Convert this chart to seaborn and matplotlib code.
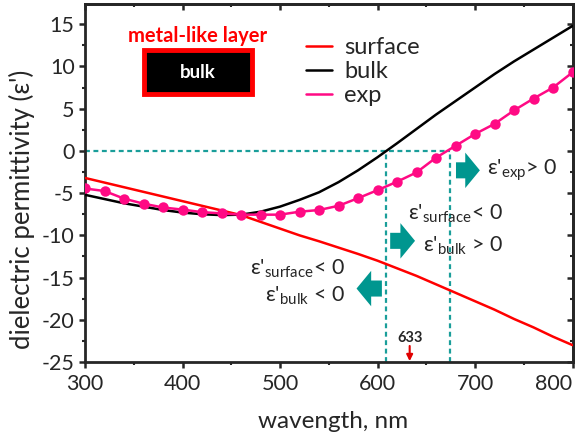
import numpy as np
import pandas as pd
import matplotlib
matplotlib.use('Agg')
import matplotlib.pyplot as plt
import seaborn as sns
from matplotlib.lines import Line2D
from matplotlib.patches import Rectangle, FancyArrow

# wavelength grid (nm) and the three permittivity curves
wavelength = [300, 320, 340, 360, 380, 400, 420, 440, 460, 480, 500, 520, 540,
              560, 580, 600, 620, 640, 660, 680, 700, 720, 740, 760, 780, 800]
eps_surface = [-3.2, -3.75, -4.3, -4.85, -5.4, -5.95, -6.5, -7.05, -7.6, -8.4, -9.2, -10.0, -10.7,
               -11.45, -12.2, -13.0, -13.9, -14.8, -15.8, -16.8, -17.8, -18.8, -19.9, -20.9, -22.0, -23.0]
eps_bulk = [-5.2, -5.7, -6.2, -6.6, -7.0, -7.3, -7.5, -7.6, -7.55, -7.2, -6.6, -5.8, -4.9,
            -3.7, -2.3, -0.75, 0.9, 2.6, 4.3, 5.9, 7.5, 9.1, 10.6, 12.0, 13.4, 14.8]
eps_exp = [-4.45, -4.75, -5.65, -6.25, -6.7, -6.95, -7.25, -7.4, -7.55, -7.55, -7.55, -7.2, -7.0,
           -6.5, -5.6, -4.65, -3.65, -2.55, -0.8, 0.6, 2.0, 3.2, 4.8, 6.2, 7.5, 9.3]

# zero crossings of bulk and exp
cross_bulk = 609
cross_exp = 674
laser = 633

df = pd.DataFrame({'wavelength': wavelength, 'surface': eps_surface,
                   'bulk': eps_bulk, 'exp': eps_exp})

sns.set_style('ticks')
plt.rcParams['font.family'] = ['Lato', 'DejaVu Sans']
plt.rcParams['mathtext.fontset'] = 'custom'
plt.rcParams['mathtext.rm'] = 'Lato'
plt.rcParams['mathtext.it'] = 'Lato:italic'
plt.rcParams['mathtext.bf'] = 'Lato:bold'
plt.rcParams['mathtext.fallback'] = 'stixsans'
plt.rcParams['axes.unicode_minus'] = False

teal = '#1a9e9a'
arrow_teal = '#00968f'
pink = '#ff0a84'

fig = plt.figure(figsize=(5.76, 4.38), dpi=100)
ax = fig.add_axes([85 / 576, 1 - 362 / 438, 487.5 / 576, 358 / 438])

# guide lines
ax.hlines(0, 300, cross_exp, colors=teal, linestyles=(0, (2.2, 1.6)), lw=1.6, zorder=1)
ax.vlines([cross_bulk, cross_exp], -25, 0, colors=teal, linestyles=(0, (2.2, 1.6)), lw=1.6, zorder=1)

sns.lineplot(data=df, x='wavelength', y='surface', color='red', lw=1.8, ax=ax, zorder=3)
sns.lineplot(data=df, x='wavelength', y='bulk', color='black', lw=1.8, ax=ax, zorder=3)
sns.lineplot(data=df, x='wavelength', y='exp', color=pink, lw=1.8, marker='o',
             markersize=7.5, markeredgewidth=0, ax=ax, zorder=4)

ax.set_xlim(300, 800)
ax.set_ylim(-25, 17.4)
ax.set_xticks([300, 400, 500, 600, 700, 800])
ax.set_yticks([-25, -20, -15, -10, -5, 0, 5, 10, 15])
ax.set_xticks(np.arange(350, 800, 100), minor=True)
ax.set_yticks(np.arange(-22.5, 17, 5), minor=True)
ax.set_xlabel('')
ax.set_ylabel('')
for s in ax.spines.values():
    s.set_linewidth(2.0)
ax.tick_params(axis='both', which='major', labelsize=15.5, width=1.8, length=4.5, direction='out')
ax.tick_params(axis='both', which='minor', width=1.5, length=2.5, direction='out')
ax.tick_params(axis='x', pad=4)
ax.tick_params(axis='y', pad=3)
# last x label sits flush with the right edge, as in the figure
ax.get_xticklabels()[-1].set_horizontalalignment('right')

# top and right inward ticks
top = ax.secondary_xaxis('top')
top.set_xticks([300, 400, 500, 600, 700, 800])
top.set_xticks(np.arange(350, 800, 100), minor=True)
top.tick_params(which='both', direction='in', labeltop=False, width=1.8, length=4.5)
top.tick_params(which='minor', length=2.5, width=1.5)
top.spines['top'].set_linewidth(2.0)
right = ax.secondary_yaxis('right')
right.set_yticks([-25, -20, -15, -10, -5, 0, 5, 10, 15])
right.set_yticks(np.arange(-22.5, 17, 5), minor=True)
right.tick_params(which='both', direction='in', labelright=False, width=1.8, length=4.5)
right.tick_params(which='minor', length=2.5, width=1.5)
right.spines['right'].set_linewidth(2.0)

fig.text(333 / 576, 1 - 421 / 438, 'wavength, nm', fontsize=17.5, ha='center', va='center')
fig.text(22 / 576, 1 - 209 / 438, "dielectric permittivity (ε')", fontsize=18.5,
         rotation=90, ha='center', va='center')

# legend
handles = [Line2D([], [], color='red', lw=1.8),
           Line2D([], [], color='black', lw=1.8),
           Line2D([], [], color=pink, lw=1.8)]
ax.legend(handles, ['surface', 'bulk', 'exp'], loc='upper left',
          bbox_to_anchor=(0.43, 0.94), frameon=False, fontsize=17,
          handlelength=1.1, handletextpad=0.5, labelspacing=0.13, borderpad=0)

# inset box
ax.add_patch(Rectangle((361, 6.7), 110, 5.2, facecolor='black', edgecolor='red', lw=3.5, zorder=5))
ax.text(416, 9.3, 'bulk', color='white', fontsize=13.5, fontweight='bold',
        ha='center', va='center', zorder=6)
ax.text(415, 13.6, 'metal-like layer', color='red', fontsize=14.5, fontweight='bold',
        ha='center', va='center')

# block arrows
arrow_kw = dict(width=1.9, head_width=4.2, head_length=15, length_includes_head=True,
                color=arrow_teal, lw=0, zorder=5)
ax.add_patch(FancyArrow(680.5, -2.3, 24.5, 0, **arrow_kw))
ax.add_patch(FancyArrow(613, -10.65, 25.5, 0, **arrow_kw))
ax.add_patch(FancyArrow(604.5, -16.3, -26, 0, **arrow_kw))

# region annotations
fs = 15.5
ax.text(712, -2.3, "ε'$_{\\mathrm{exp}}$> 0", fontsize=fs, ha='left', va='center')
ax.text(729, -7.4, "ε'$_{\\mathrm{surface}}$< 0", fontsize=fs, ha='right', va='center')
ax.text(729, -11.2, "ε'$_{\\mathrm{bulk}}$ > 0", fontsize=fs, ha='right', va='center')
ax.text(567, -14.0, "ε'$_{\\mathrm{surface}}$< 0", fontsize=fs, ha='right', va='center')
ax.text(567, -17.2, "ε'$_{\\mathrm{bulk}}$ < 0", fontsize=fs, ha='right', va='center')

# 633 nm marker
ax.text(laser, -22.2, '633', fontsize=10.5, fontweight='bold', ha='center', va='center')
ax.annotate('', xy=(laser, -24.9), xytext=(laser, -23.1),
            arrowprops=dict(arrowstyle='-|>', color='#e00000', lw=1.5, mutation_scale=9,
                            shrinkA=0, shrinkB=0))

fig.savefig('out.png', dpi=100)
